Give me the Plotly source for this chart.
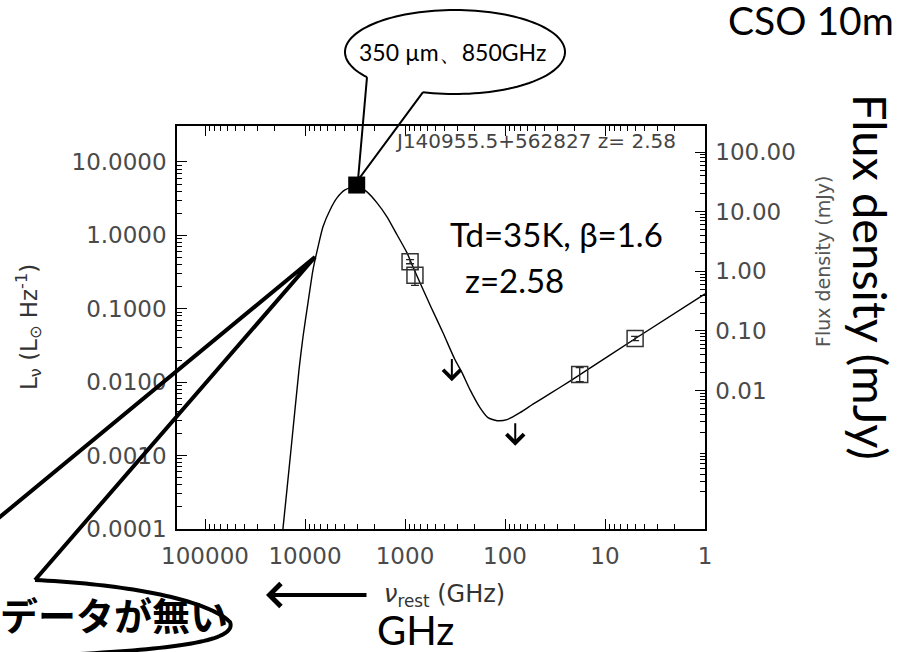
import math
import plotly.graph_objects as go

# Dust + synchrotron model SED, rest-frame frequency (GHz) and L_nu (L_sun Hz^-1)
nu_model = [17380, 16600, 13800, 11480, 10470, 9330, 8320, 7410, 6610, 5620,
            4790, 3980, 3020, 2400, 1905, 1514, 1202, 955, 832, 708,
            550, 417, 316, 269, 224, 178, 148, 120, 95.5, 70.8,
            52.5, 35.5, 22.4, 17.8, 5.01, 1.0]
L_model = [5.6e-5, 1.02e-4, 1.21e-3, 0.0148, 0.0416, 0.121, 0.340, 0.698, 1.31, 2.22,
           3.24, 4.16, 4.71, 3.91, 2.77, 1.79, 1.02, 0.578, 0.372, 0.226,
           0.106, 0.0471, 0.0202, 0.0135, 0.00791, 0.00450, 0.00329, 0.00299, 0.00309, 0.00385,
           0.00502, 0.00698, 0.01033, 0.01265, 0.0391, 0.160]

# 350 um (850 GHz observed) detection, flux density in mJy
nu_350 = [3040]
f_350 = [28.0]

# other detections with errors (mJy)
nu_det = [890, 795, 17.9, 5.0]
f_det = [1.45, 0.86, 0.0186, 0.075]
err_hi = [0.12, 0.22, 0.0058, 0.006]
err_lo = [0.11, 0.28, 0.0044, 0.006]

# upper limits (mJy)
nu_lim = [340, 79]
f_lim = [0.036, 0.0030]

x_ticks = [1e5, 1e4, 1e3, 100, 10, 1]
x_ticktext = ["100000", "10000", "1000", "100", "10", "1"]
yl_ticks = [1e-4, 1e-3, 1e-2, 0.1, 1, 10]
yl_ticktext = ["0.0001", "0.0010", "0.0100", "0.1000", "1.0000", "10.0000"]
yr_ticks = [0.01, 0.1, 1, 10, 100]
yr_ticktext = ["0.01", "0.10", "1.00", "10.00", "100.00"]

W, H = 906, 652
PL, PR, PT, PB = 177, 705, 126, 529


def px(x):
    return (x - PL) / (PR - PL)


def py(y):
    return (PB - y) / (PB - PT)


def minor_vals(lo, hi):
    return [m * 10.0 ** k for k in range(lo, hi) for m in range(2, 10)]


TICKFONT = dict(family="DejaVu Sans", size=23, color="#4a4a4a")

fig = go.Figure()

fig.add_trace(go.Scatter(
    x=nu_model, y=L_model, mode="lines",
    line=dict(color="black", width=1.4, shape="spline", smoothing=0.6),
    yaxis="y", hoverinfo="skip"))

fig.add_trace(go.Scatter(
    x=nu_det, y=f_det, mode="markers", yaxis="y2",
    marker=dict(symbol="square-open", size=16, color="#333",
                line=dict(width=1.5, color="#333")),
    error_y=dict(type="data", array=err_hi, arrayminus=err_lo,
                 color="#222", thickness=1.3, width=4)))

fig.add_trace(go.Scatter(
    x=nu_350, y=f_350, mode="markers", yaxis="y2",
    marker=dict(symbol="square", size=17, color="black")))

annotations = []

# upper-limit arrows drawn from the limit downward
for nu, f in zip(nu_lim, f_lim):
    lx, lf = math.log10(nu), math.log10(f)
    annotations.append(dict(
        x=lx, y=lf - 0.40, xref="x", yref="y2",
        ax=lx, ay=lf, axref="x", ayref="y2",
        text="", showarrow=True, arrowhead=4, arrowsize=1.7,
        arrowwidth=2, arrowcolor="black"))


def note(text, x, y, size, family="Lato", color="black", angle=0,
         xanchor="center", yanchor="middle"):
    annotations.append(dict(
        text=text, x=px(x), y=py(y), xref="paper", yref="paper",
        showarrow=False, textangle=angle, xanchor=xanchor, yanchor=yanchor,
        font=dict(family=family, size=size, color=color)))


note("J140955.5+562827 z= 2.58", 535, 141, 20, family="DejaVu Sans", color="#444")
note("Td=35K, β=1.6", 556, 234, 33)
note("z=2.58", 514, 280, 33)
note("350 µm、850GHz", 452, 52, 23)
note("CSO 10m", 726, 20, 39, xanchor="left")
note("Flux density (mJy)", 871, 277, 47, angle=90)
note("GHz", 415, 630, 40)
note("<b>データが無い</b>", -2, 613, 38, family="Noto Sans CJK JP", xanchor="left")
note("L<sub>ν</sub> (L<sub>⊙</sub> Hz<sup>-1</sup>)", 28, 327, 23,
     family="DejaVu Sans", color="#333", angle=-90)
note("<i>ν</i><sub>rest</sub> (GHz)", 444, 595, 24, family="DejaVu Sans", color="#333")
note("Flux density (mJy)", 823, 262, 19, family="DejaVu Sans", color="#555", angle=-90)

# direction arrow next to the frequency axis title
annotations.append(dict(
    x=px(266), y=py(595), xref="paper", yref="paper",
    ax=102, ay=0, text="", showarrow=True, arrowhead=4, arrowsize=1.1,
    arrowwidth=4, arrowcolor="black"))

shapes = []


def path_from(points, close=False):
    s = "M " + " L ".join(f"{px(a):.5f},{py(b):.5f}" for a, b in points)
    return s + (" Z" if close else "")


# oval callout around the 350 um label
cx, cy, rx, ry = 455, 52, 110, 42
ta = math.acos((423 - cx) / rx)
tb = math.acos((367 - cx) / rx)
arc = [(cx + rx * math.cos(t), cy + ry * math.sin(t))
       for t in [tb + (ta + 2 * math.pi - tb) * i / 120 for i in range(121)]]
shapes.append(dict(type="path", xref="paper", yref="paper",
                   path=path_from(arc), line=dict(color="black", width=2)))
shapes.append(dict(type="path", xref="paper", yref="paper",
                   path=path_from([(367, cy + ry * math.sin(tb)), (358, 180),
                                   (423, cy + ry * math.sin(ta))]),
                   line=dict(color="black", width=2)))

# callout pointing at the Wien side of the curve
shapes.append(dict(type="path", xref="paper", yref="paper",
                   path=path_from([(-5, 521), (315, 257), (35, 580)]),
                   line=dict(color="black", width=4)))


def bez(p0, p1, p2, p3, n=40):
    pts = []
    for i in range(n + 1):
        t = i / n
        a, b, c, d = (1 - t) ** 3, 3 * (1 - t) ** 2 * t, 3 * (1 - t) * t ** 2, t ** 3
        pts.append((a * p0[0] + b * p1[0] + c * p2[0] + d * p3[0],
                    a * p0[1] + b * p1[1] + c * p2[1] + d * p3[1]))
    return pts


oval = bez((35, 580), (120, 584), (205, 598), (230, 622)) + \
    bez((230, 622), (238, 642), (170, 650), (40, 656))[1:]
shapes.append(dict(type="path", xref="paper", yref="paper",
                   path=path_from(oval), line=dict(color="black", width=4)))

axis_common = dict(
    type="log", ticks="inside", ticklen=10, tickwidth=1.2, tickcolor="black",
    showline=True, linecolor="black", linewidth=1.5, showgrid=False,
    zeroline=False, tickfont=TICKFONT, tickmode="array")

fig.update_layout(
    width=W, height=H,
    margin=dict(l=PL, r=W - PR, t=PT, b=H - PB),
    paper_bgcolor="white", plot_bgcolor="white", showlegend=False,
    xaxis=dict(axis_common, range=[5.28, 0], tickvals=x_ticks, ticktext=x_ticktext,
               mirror="ticks", ticklabelstandoff=6,
               minor=dict(tickvals=minor_vals(0, 6), ticks="inside", ticklen=5,
                          tickcolor="black", showgrid=False)),
    yaxis=dict(axis_common, range=[-4, 1.49], tickvals=yl_ticks, ticktext=yl_ticktext,
               ticklabelstandoff=4,
               minor=dict(tickvals=minor_vals(-4, 1), ticks="inside", ticklen=5,
                          tickcolor="black", showgrid=False)),
    yaxis2=dict(axis_common, range=[-4.32, 2.437], tickvals=yr_ticks,
                ticktext=yr_ticktext, overlaying="y", side="right",
                ticklabelstandoff=4,
                minor=dict(tickvals=minor_vals(-4, 2), ticks="inside", ticklen=5,
                           tickcolor="black", showgrid=False)),
    annotations=annotations, shapes=shapes)

fig.write_html("out.html")
